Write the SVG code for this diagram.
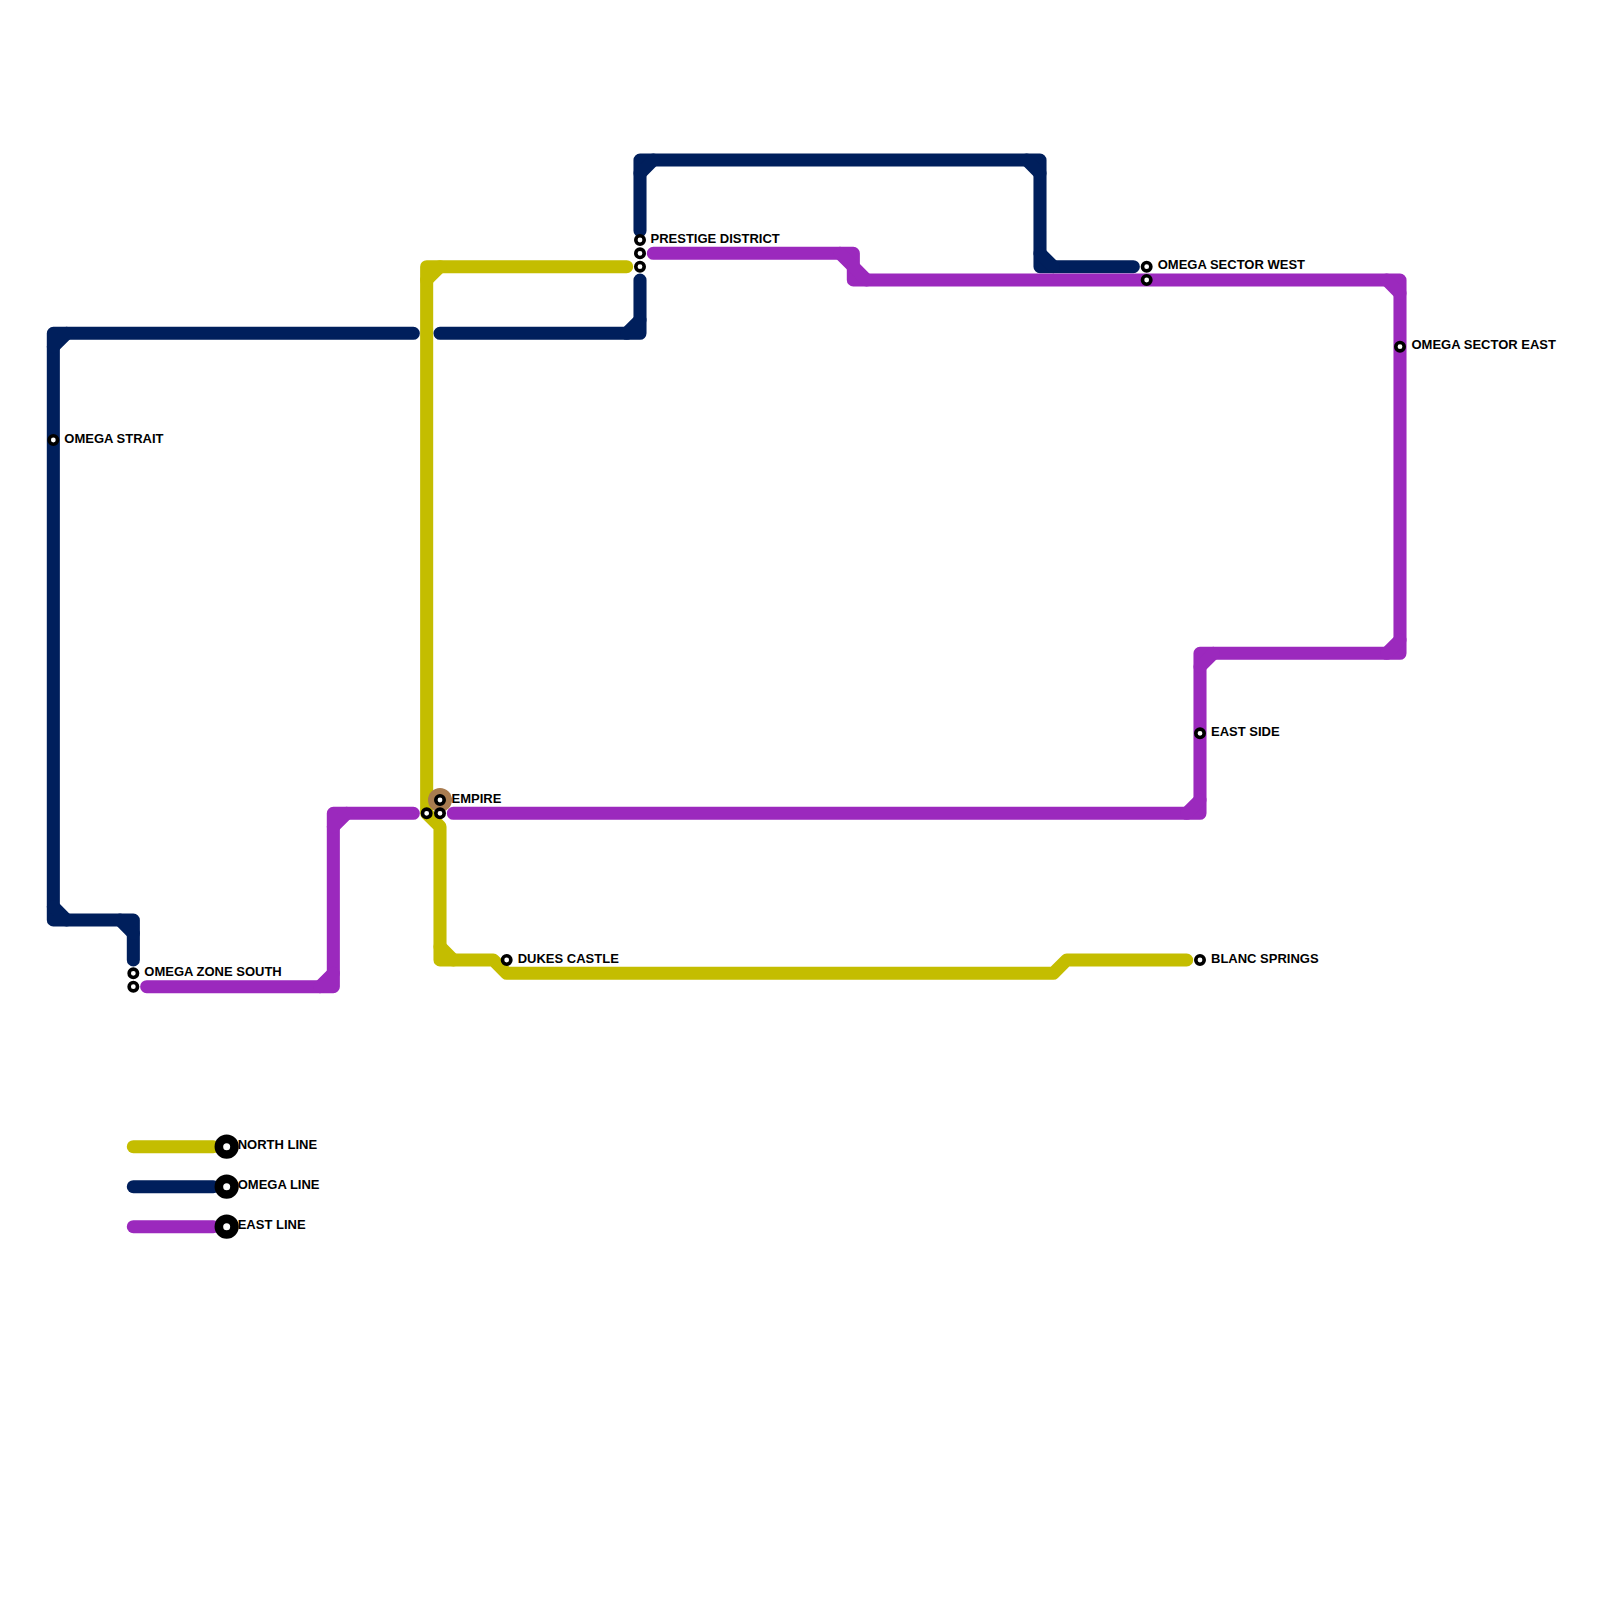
<svg xmlns="http://www.w3.org/2000/svg" width="1600" height="1600" viewBox="0 0 1600 1600">
<style>
.ln{fill:none;stroke-width:0.98;stroke-linecap:round;stroke-linejoin:round}
.north{stroke:#c4bd00}
.omega{stroke:#001f5c}
.east{stroke:#9b29bd}
.st{fill:#ffffff;stroke:#000000;stroke-width:3.6}
.lg{fill:#ffffff;stroke:#000000;stroke-width:8.6}
.ic{fill:#a97c50}
text{font-family:"Liberation Sans",Arial,sans-serif;font-weight:bold;font-size:13px;fill:#000000}
</style>
<rect width="1600" height="1600" fill="#ffffff"/>
<g id="connectors" transform="scale(13.3333)">
  <g id="north-line" class="ln north">
    <path d="M47,20 H32 V61 L33,62 V72 H37 L38,73 H79 L80,72 H89"/>
    <path d="M33,20 L32,21 M33,71 L34,72"/>
  </g>
  <g id="omega-line" class="ln omega">
    <path d="M31,25 H4 V69 H10 V72"/>
    <path d="M5,25 L4,26 M4,68 L5,69 M9,69 L10,70"/>
    <path d="M33,25 H48 V21"/>
    <path d="M47,25 L48,24"/>
    <path d="M48,17.3 V12 H78 V20 H85"/>
    <path d="M48,13 L49,12 M77,12 L78,13 M78,19 L79,20"/>
  </g>
  <g id="east-line" class="ln east">
    <path d="M11,74 H25 V61 H31"/>
    <path d="M24,74 L25,73 M25,62 L26,61"/>
    <path d="M34,61 H90 V49 H105 V21 H64 V19 H49"/>
    <path d="M89,61 L90,60 M90,50 L91,49 M104,49 L105,48 M105,22 L104,21 M65,21 L64,20 M64,20 L63,19"/>
  </g>
  <g id="legend-lines" class="ln">
    <path class="north" d="M10,86 H16"/>
    <path class="omega" d="M10,89 H16"/>
    <path class="east" d="M10,92 H16"/>
  </g>
</g>
<g id="omega-strait">
  <circle class="st" cx="53.33" cy="440" r="4.2"/>
  <text x="64.3" y="442.5">OMEGA STRAIT</text>
</g>
<g id="omega-zone-south">
  <circle class="st" cx="133.33" cy="973.33" r="4.2"/>
  <circle class="st" cx="133.33" cy="986.67" r="4.2"/>
  <text x="144.3" y="975.8">OMEGA ZONE SOUTH</text>
</g>
<g id="empire">
  <circle class="ic" cx="440" cy="800" r="12"/>
  <circle class="st" cx="440" cy="800" r="4.2"/>
  <circle class="st" cx="426.67" cy="813.33" r="4.2"/>
  <circle class="st" cx="440" cy="813.33" r="4.2"/>
  <text x="451.5" y="802.5">EMPIRE</text>
</g>
<g id="dukes-castle">
  <circle class="st" cx="506.67" cy="960" r="4.2"/>
  <text x="517.7" y="962.5">DUKES CASTLE</text>
</g>
<g id="prestige-district">
  <circle class="st" cx="640" cy="240" r="4.2"/>
  <circle class="st" cx="640" cy="253.33" r="4.2"/>
  <circle class="st" cx="640" cy="266.67" r="4.2"/>
  <text x="650.5" y="242.5">PRESTIGE DISTRICT</text>
</g>
<g id="omega-sector-west">
  <circle class="st" cx="1146.67" cy="266.67" r="4.2"/>
  <circle class="st" cx="1146.67" cy="280" r="4.2"/>
  <text x="1157.7" y="269.2">OMEGA SECTOR WEST</text>
</g>
<g id="omega-sector-east">
  <circle class="st" cx="1400" cy="346.67" r="4.2"/>
  <text x="1411.5" y="349.2">OMEGA SECTOR EAST</text>
</g>
<g id="east-side">
  <circle class="st" cx="1200" cy="733.33" r="4.2"/>
  <text x="1211" y="735.8">EAST SIDE</text>
</g>
<g id="blanc-springs">
  <circle class="st" cx="1200" cy="960" r="4.2"/>
  <text x="1211" y="962.5">BLANC SPRINGS</text>
</g>
<g id="legend">
  <g id="legend-north">
    <circle class="lg" cx="226.67" cy="1146.67" r="7.8"/>
    <text x="237.7" y="1149.2">NORTH LINE</text>
  </g>
  <g id="legend-omega">
    <circle class="lg" cx="226.67" cy="1186.67" r="7.8"/>
    <text x="237.7" y="1189.2">OMEGA LINE</text>
  </g>
  <g id="legend-east">
    <circle class="lg" cx="226.67" cy="1226.67" r="7.8"/>
    <text x="237.7" y="1229.2">EAST LINE</text>
  </g>
</g>
</svg>
